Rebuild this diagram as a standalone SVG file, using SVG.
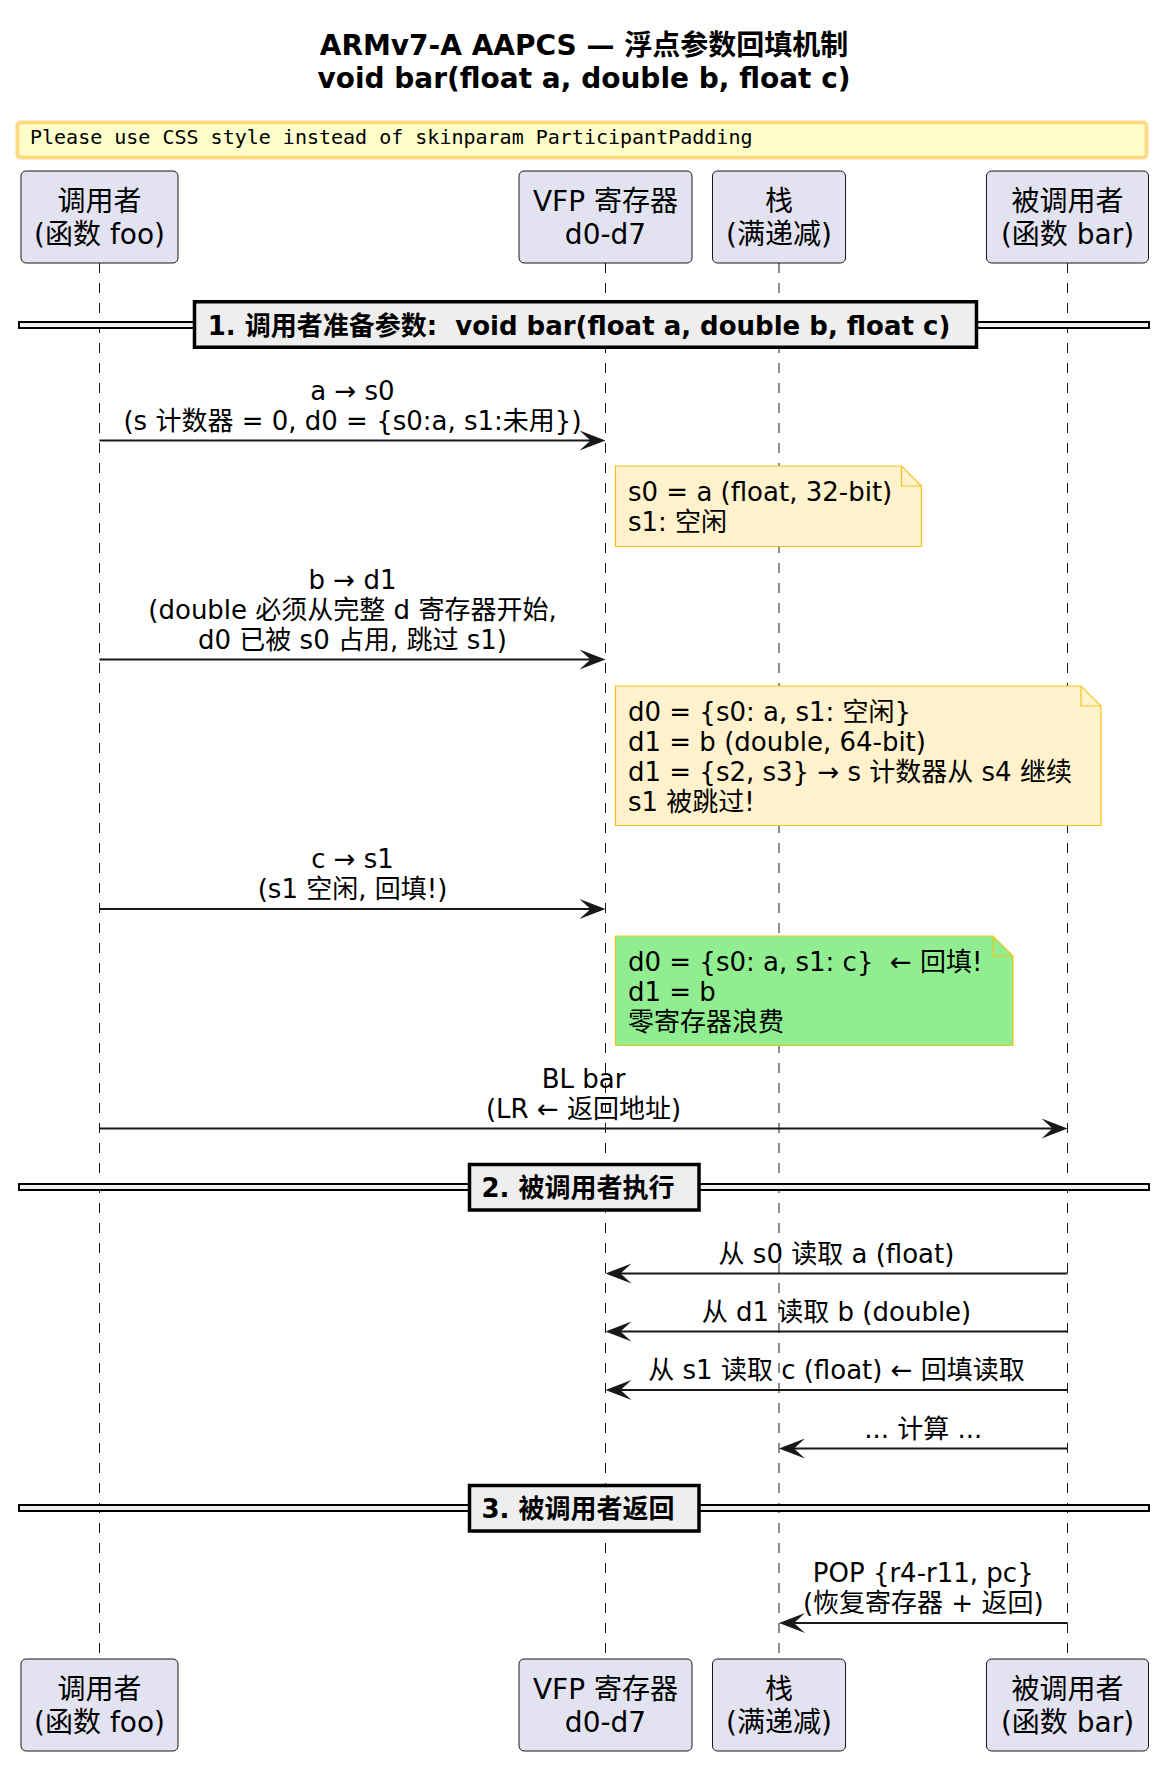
<svg xmlns="http://www.w3.org/2000/svg" width="1168" height="1774" viewBox="0 0 1168 1774">
<style>
  text { font-family: "DejaVu Sans", "Noto Sans CJK SC", sans-serif; fill: #000; }
  .title { font-size: 28px; font-weight: bold; text-anchor: middle; }
  .warn { font-family: "DejaVu Sans Mono", "Liberation Mono", monospace; font-size: 20px; }
  .part rect { fill: #E2E2F0; stroke: #181818; stroke-width: 1; }
  .part text { font-size: 28px; text-anchor: middle; }
  .life { stroke: #181818; stroke-width: 1; stroke-dasharray: 10 10; fill: none; }
  .msg { stroke: #181818; stroke-width: 2; fill: none; marker-end: url(#ah); }
  .lbl { font-size: 26px; text-anchor: middle; white-space: pre; }
  .note path.body { fill: #FFF2CC; stroke: #F5C21B; stroke-width: 1.2; }
  .note.green path.body { fill: #90EE90; }
  .note path.fold { fill: none; stroke: #F5C21B; stroke-width: 1.2; }
  .note text { font-size: 26px; white-space: pre; }
  .divline { fill: #EEEEEE; stroke: #000; stroke-width: 2; }
  .divbox { fill: #EEEEEE; stroke: #000; stroke-width: 3.5; }
  .divtxt { font-size: 26px; font-weight: bold; text-anchor: middle; white-space: pre; }
</style>
<defs>
  <marker id="ah" viewBox="-28 -12 30 24" markerWidth="30" markerHeight="24" refX="-8" refY="0" orient="auto" markerUnits="userSpaceOnUse">
    <path d="M0,0 L-26,-10 L-15,0 L-26,10 Z" fill="#181818"/>
  </marker>
</defs>
<rect x="0" y="0" width="1168" height="1774" fill="#FFFFFF"/>

<g id="title">
  <text class="title" x="584" y="55">ARMv7-A AAPCS — 浮点参数回填机制</text>
  <text class="title" x="584" y="88">void bar(float a, double b, float c)</text>
</g>

<g id="warning">
  <rect x="17.5" y="122.5" width="1129" height="35" rx="3" fill="#FFFFCC" stroke="#FFD983" stroke-width="4"/>
  <text class="warn" x="30" y="144">Please use CSS style instead of skinparam ParticipantPadding</text>
</g>

<g id="lifelines">
  <line class="life" x1="99.5" y1="263" x2="99.5" y2="1659"/>
  <line class="life" x1="605.5" y1="263" x2="605.5" y2="1659"/>
  <line class="life" x1="779" y1="263" x2="779" y2="1659"/>
  <line class="life" x1="1067.5" y1="263" x2="1067.5" y2="1659"/>
</g>

<g id="caller" class="part">
  <rect x="21" y="171" width="157" height="92" rx="5"/>
  <text x="99.5" y="211">调用者</text>
  <text x="99.5" y="244">(函数 foo)</text>
</g>
<g id="vfp" class="part">
  <rect x="519" y="171" width="173" height="92" rx="5"/>
  <text x="605.5" y="211">VFP 寄存器</text>
  <text x="605.5" y="244">d0-d7</text>
</g>
<g id="stack" class="part">
  <rect x="712.5" y="171" width="133" height="92" rx="5"/>
  <text x="779" y="211">栈</text>
  <text x="779" y="244">(满递减)</text>
</g>
<g id="callee" class="part">
  <rect x="986.5" y="171" width="162" height="92" rx="5"/>
  <text x="1067.5" y="211">被调用者</text>
  <text x="1067.5" y="244">(函数 bar)</text>
</g>

<g id="caller-bottom" class="part">
  <rect x="21" y="1659" width="157" height="92" rx="5"/>
  <text x="99.5" y="1699">调用者</text>
  <text x="99.5" y="1732">(函数 foo)</text>
</g>
<g id="vfp-bottom" class="part">
  <rect x="519" y="1659" width="173" height="92" rx="5"/>
  <text x="605.5" y="1699">VFP 寄存器</text>
  <text x="605.5" y="1732">d0-d7</text>
</g>
<g id="stack-bottom" class="part">
  <rect x="712.5" y="1659" width="133" height="92" rx="5"/>
  <text x="779" y="1699">栈</text>
  <text x="779" y="1732">(满递减)</text>
</g>
<g id="callee-bottom" class="part">
  <rect x="986.5" y="1659" width="162" height="92" rx="5"/>
  <text x="1067.5" y="1699">被调用者</text>
  <text x="1067.5" y="1732">(函数 bar)</text>
</g>

<g id="divider1">
  <rect class="divline" x="19" y="322" width="1130" height="6"/>
  <rect class="divbox" x="194.5" y="301.75" width="782" height="45.5"/>
  <text class="divtxt" x="579" y="335">1. 调用者准备参数:  void bar(float a, double b, float c)</text>
</g>
<g id="divider2">
  <rect class="divline" x="19" y="1184" width="1130" height="6"/>
  <rect class="divbox" x="469.5" y="1164.5" width="229.5" height="45.5"/>
  <text class="divtxt" x="578" y="1197">2. 被调用者执行</text>
</g>
<g id="divider3">
  <rect class="divline" x="19" y="1505" width="1130" height="6"/>
  <rect class="divbox" x="469.5" y="1485.5" width="229.5" height="45.5"/>
  <text class="divtxt" x="578" y="1518">3. 被调用者返回</text>
</g>

<g id="connectors">
  <path class="msg" d="M99.5,440.5 H597.5"/>
  <path class="msg" d="M99.5,659.5 H597.5"/>
  <path class="msg" d="M99.5,909 H597.5"/>
  <path class="msg" d="M99.5,1128.5 H1059.5"/>
  <path class="msg" d="M1067.5,1273.5 H613.5"/>
  <path class="msg" d="M1067.5,1331.5 H613.5"/>
  <path class="msg" d="M1067.5,1390 H613.5"/>
  <path class="msg" d="M1067.5,1448.5 H787"/>
  <path class="msg" d="M1067.5,1623 H787"/>
</g>

<g id="labels">
  <text class="lbl" x="352.5" y="399.5">a → s0</text>
  <text class="lbl" x="352.5" y="429.5">(s 计数器 = 0, d0 = {s0:a, s1:未用})</text>
  <text class="lbl" x="352.5" y="588.5">b → d1</text>
  <text class="lbl" x="352.5" y="618.5">(double 必须从完整 d 寄存器开始,</text>
  <text class="lbl" x="352.5" y="648.5">d0 已被 s0 占用, 跳过 s1)</text>
  <text class="lbl" x="352.5" y="868">c → s1</text>
  <text class="lbl" x="352.5" y="898">(s1 空闲, 回填!)</text>
  <text class="lbl" x="583.5" y="1087.5">BL bar</text>
  <text class="lbl" x="583.5" y="1117.5">(LR ← 返回地址)</text>
  <text class="lbl" x="836.5" y="1262.5">从 s0 读取 a (float)</text>
  <text class="lbl" x="836.5" y="1320.5">从 d1 读取 b (double)</text>
  <text class="lbl" x="836.5" y="1379">从 s1 读取 c (float) ← 回填读取</text>
  <text class="lbl" x="923.25" y="1437.5">... 计算 ...</text>
  <text class="lbl" x="923.25" y="1582">POP {r4-r11, pc}</text>
  <text class="lbl" x="923.25" y="1612">(恢复寄存器 + 返回)</text>
</g>

<g id="note1" class="note">
  <path class="body" d="M615.5,466 H901.5 L921.5,486 V546.5 H615.5 Z"/>
  <path class="fold" d="M901.5,466 V486 H921.5"/>
  <text x="628" y="501">s0 = a (float, 32-bit)</text>
  <text x="628" y="531">s1: 空闲</text>
</g>
<g id="note2" class="note">
  <path class="body" d="M615.5,686 H1081 L1101,706 V825.5 H615.5 Z"/>
  <path class="fold" d="M1081,686 V706 H1101"/>
  <text x="628" y="720.5">d0 = {s0: a, s1: 空闲}</text>
  <text x="628" y="750.5">d1 = b (double, 64-bit)</text>
  <text x="628" y="780.5">d1 = {s2, s3} → s 计数器从 s4 继续</text>
  <text x="628" y="810.5">s1 被跳过!</text>
</g>
<g id="note3" class="note green">
  <path class="body" d="M615.5,936 H993 L1013,956 V1045.5 H615.5 Z"/>
  <path class="fold" d="M993,936 V956 H1013"/>
  <text x="628" y="970.5">d0 = {s0: a, s1: c}  ← 回填!</text>
  <text x="628" y="1000.5">d1 = b</text>
  <text x="628" y="1030.5">零寄存器浪费</text>
</g>
</svg>
